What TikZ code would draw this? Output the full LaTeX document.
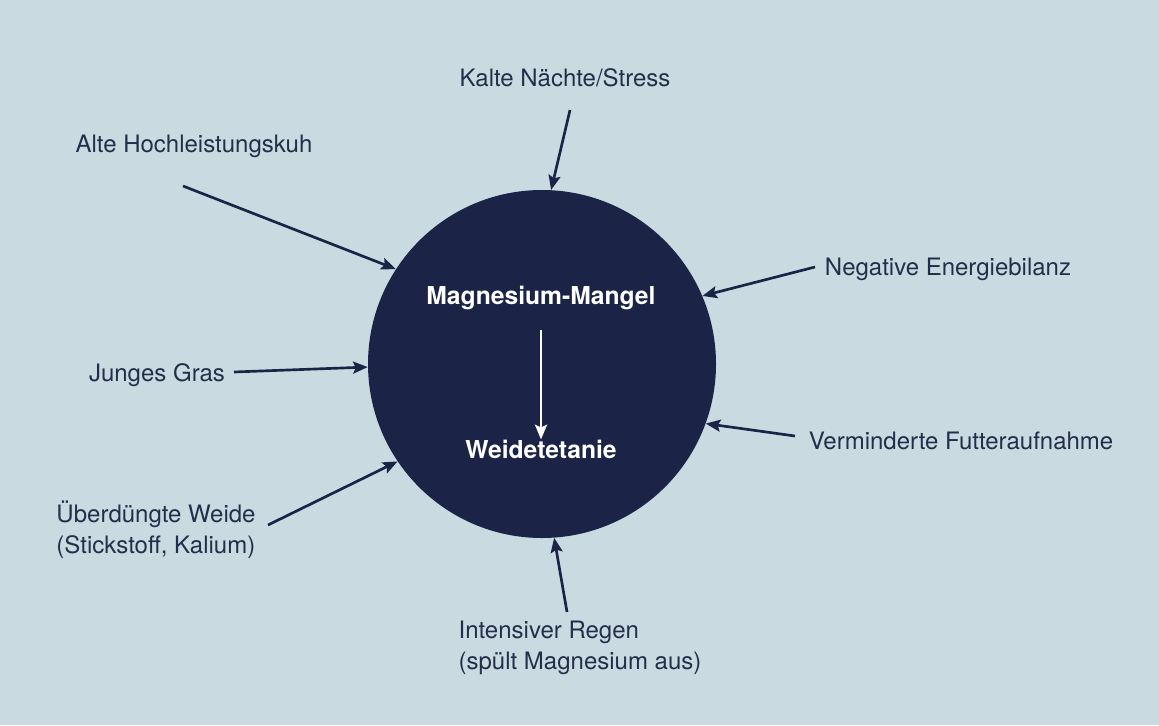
\documentclass[tikz,border=0pt]{standalone}
\usepackage{fontspec}
\setmainfont{TeX Gyre Heros}
\usetikzlibrary{arrows.meta}

\definecolor{paper}{RGB}{201,218,225}
\definecolor{navy}{RGB}{27,36,70}
\definecolor{ink}{RGB}{36,46,74}

\begin{document}
\begin{tikzpicture}[
  x=0.75pt,y=-0.75pt,
  every node/.style={font=\fontsize{18}{23}\selectfont,text=ink},
  cause/.style={align=left,inner sep=0pt},
  core/.style={circle,fill=navy,minimum size=261pt,inner sep=0pt},
  inside/.style={font=\fontsize{18.5}{22}\selectfont\bfseries,text=white,inner sep=0pt},
  link/.style={->,navy,line width=2pt},
  >={Stealth[length=11pt,width=9pt,inset=2pt]}
]

% PAGE
\fill[paper] (0,0) rectangle (1159,725);
\useasboundingbox (0,0) rectangle (1159,725);

% CIRCLE
\node[core] (C) at (542,364) {};
\node[inside] (MM) at (541,298) {Magnesium-Mangel};
\node[inside] (WT) at (541,449) {Weidetetanie};
\draw[->,white,line width=2pt] (541,330) -- (WT.north);

% CAUSES
\node[cause] (KN) at (565,78) {Kalte Nächte/Stress};
\node[cause] (AH) at (194,146) {Alte Hochleistungskuh};
\node[cause] (NE) at (948,269) {Negative Energiebilanz};
\node[cause] (JG) at (157,375) {Junges Gras};
\node[cause] (VF) at (961,441) {Verminderte Futteraufnahme};
\node[cause] (UW) at (156,530) {Überdüngte Weide\\(Stickstoff, Kalium)};
\node[cause] (IR) at (580,648) {Intensiver Regen\\(spült Magnesium aus)};

% ARROW ENDS
\coordinate (kn) at (570,110);
\coordinate (ah) at (183,186);
\coordinate (ne) at (815,267);
\coordinate (jg) at (234,372);
\coordinate (vf) at (795,436);
\coordinate (uw) at (268,525);
\coordinate (ir) at (567,612);

\draw[link] (kn) -- (C.87);
\draw[link] (ah) -- (C.147);
\draw[link] (ne) -- (C.23);
\draw[link] (jg) -- (C.181);
\draw[link] (vf) -- (C.-20);
\draw[link] (uw) -- (C.214);
\draw[link] (ir) -- (C.-86);

\end{tikzpicture}
\end{document}
